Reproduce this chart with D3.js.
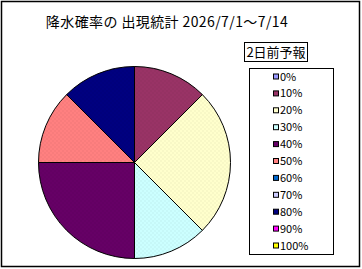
<!DOCTYPE html>
<html>
<head>
<meta charset="utf-8">
<script src="https://cdn.jsdelivr.net/npm/d3@7"></script>
<style>
  body { margin: 0; background: #fff; }
  text { font-family: "Noto Sans CJK JP", "Liberation Sans", sans-serif; }
</style>
</head>
<body>
<svg id="chart" width="362" height="269"></svg>
<script>
// Categories and counts (days)
const categories = ['0%', '10%', '20%', '30%', '40%', '50%', '60%', '70%', '80%', '90%', '100%'];
const counts = [0, 1, 2, 1, 2, 1, 0, 0, 1, 0, 0];
const colors = ['#9999ff', '#993366', '#ffffcc', '#ccffff', '#660066', '#ff8080',
  '#0066cc', '#ccccff', '#000080', '#ff00ff', '#ffff00'];
const title = '降水確率の 出現統計 2026/7/1～7/14';
const legendTitle = '2日前予報';

const svg = d3.select('#chart');

// Outer frame
svg.append('rect')
  .attr('x', 1.5).attr('y', 1.5)
  .attr('width', 358).attr('height', 265)
  .attr('fill', '#fff').attr('stroke', '#000').attr('stroke-width', 1.5);

// Title
svg.append('text')
  .attr('x', 167).attr('y', 27)
  .attr('text-anchor', 'middle')
  .attr('font-size', 14)
  .attr('letter-spacing', 0.4)
  .text(title);

// Dotted textures like the original
const defs = svg.append('defs');
colors.forEach((c, i) => {
  const p = defs.append('pattern')
    .attr('id', `pat${i}`)
    .attr('patternUnits', 'userSpaceOnUse')
    .attr('width', 4).attr('height', 4);
  p.append('rect').attr('width', 4).attr('height', 4).attr('fill', c);
  const dot = d3.color(c).darker(0.35).formatHex();
  p.append('rect').attr('x', 0).attr('y', 0).attr('width', 1).attr('height', 1).attr('fill', dot);
  p.append('rect').attr('x', 2).attr('y', 2).attr('width', 1).attr('height', 1).attr('fill', dot);
});

// Pie
const cx = 134.5, cy = 162.5, r = 96;
const pie = d3.pie().sort(null).value((d) => d);
const arc = d3.arc().innerRadius(0).outerRadius(r);
const g = svg.append('g').attr('transform', `translate(${cx},${cy})`);
g.selectAll('path')
  .data(pie(counts).map((d, i) => ({...d, i})).filter((d) => d.value > 0))
  .enter()
  .append('path')
    .attr('d', arc)
    .attr('fill', (d) => `url(#pat${d.i})`)
    .attr('stroke', '#000')
    .attr('stroke-width', 1);

// Legend title box
svg.append('rect')
  .attr('x', 244.5).attr('y', 42.5)
  .attr('width', 63).attr('height', 19)
  .attr('fill', '#fff').attr('stroke', '#000');
svg.append('text')
  .attr('x', 276).attr('y', 57)
  .attr('text-anchor', 'middle')
  .attr('font-size', 13)
  .text(legendTitle);

// Legend box
svg.append('rect')
  .attr('x', 249.5).attr('y', 68.5)
  .attr('width', 84).attr('height', 186)
  .attr('fill', '#fff').attr('stroke', '#000');

const ly = d3.scalePoint().domain(categories).range([76.5, 245.5]);
const items = svg.selectAll('.legend-item')
  .data(categories)
  .enter()
  .append('g')
    .attr('class', 'legend-item')
    .attr('transform', (d) => `translate(0,${ly(d)})`);
items.append('rect')
  .attr('x', 273.5).attr('y', -2.5)
  .attr('width', 5).attr('height', 5)
  .attr('fill', (d, i) => colors[i])
  .attr('stroke', '#000');
items.append('text')
  .attr('x', 280).attr('y', 4)
  .attr('font-size', 11)
  .text((d) => d);
</script>
</body>
</html>
